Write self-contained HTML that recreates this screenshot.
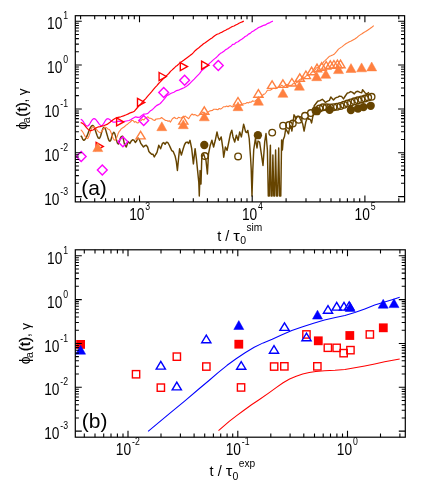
<!DOCTYPE html>
<html><head><meta charset="utf-8"><title>plot</title>
<style>html,body{margin:0;padding:0;background:#fff}svg{display:block}text{font-family:"Liberation Sans", sans-serif;fill:#000}</style></head><body>
<svg width="443" height="504" viewBox="0 0 443 504">
<rect width="443" height="504" fill="#fff"/>
<path d="M80.7 135.7L81.7 136.8L82.7 139.2L83.7 140.3L84.5 140L85.3 139.1L86.2 137.7L87 135.9L87.8 133.9L88.6 131.8L89.4 129.8L90.2 128L91.1 126.6L91.9 125.7L92.7 125.4L93.6 126L94.5 127.9L95.4 130.5L96.4 133.4L97.3 136L98.2 137.9L99.1 138.5L99.9 137.7L100.7 135.7L101.5 132.8L102.4 130L103.2 128L104 127.2L104.8 127.9L105.7 129.9L106.5 132.7L107.4 135.8L108.2 138.6L109.1 140.6L109.9 141.3L110.9 140L111.8 136.8L112.8 133.6L113.8 132.3L114.7 133.4L115.6 136.4L116.5 140L117.4 143L118.3 144.1L119.2 142.3L120.2 138.6L121.1 136.8L122.7 136.2L124.5 144.3L126.3 147L128.1 141.6L129.9 143.4L131.2 141.1L132.6 139.8L133.9 140.1L135.3 142.5L136.7 140.7L138 138L139.4 139.4L140.8 143.4L142.2 145.3L143.5 147L144.8 145.7L146.2 145.2L147.6 147L148.9 151.5L150.2 152.9L151.6 154.2L152.9 154.2L154.3 156.9L155.7 154.5L157 152.4L158.8 145.2L160.6 148.8L162.4 143.4L163.8 142.6L165.1 144.3L166.4 142.2L167.8 142.5L169.2 145L170.5 147.9L171.8 150.7L173.2 151.5L175.1 156L176.3 161.4L177.4 170.5L178.7 156.9L179.6 148.8L181.4 155.1L183.2 148.8L184.6 144.5L185.9 142.5L187.2 142.1L188.6 143.4L190 140.3L191.7 148.7L193.4 163.9L195.1 148.7L196.4 158.8L197.6 170.6L198.8 182.5L199.3 196L200.1 170.6L201 184.1L201.8 157.2L203.5 153.8L204.8 157.5L206 160.5L207.4 174L208.5 153.8L210.2 145.4L211.9 140.3L213.6 147L215.3 140.3L217 131.9L218.2 137.4L219.5 140.3L221.2 136.9L222.9 148.7L223.7 157.2L225.4 147L227.1 150.4L228.8 142L230.5 133.5L231.8 130.2L233 136.9L234.7 142L236.4 135.2L238.1 140.3L239.7 131.9L241.4 136.9L242.5 130.8L243.6 124.3L244.6 127.8L245.6 131.9L246.7 132.6L247.8 130.4L249.2 138.5L250.6 158L251.2 169L252 196L252.8 170L253.7 150L255.4 138.5L257 148L258 141L259.6 142L261.3 153.7L263 165.5L264.7 142L266 133.5L267.4 150L268.3 196L269.3 196L270.1 152L270.4 145.3L271.1 196L272.1 196L272.9 155L273.8 196L274.7 196L275.6 150L276.6 196L277.6 196L278.7 148L279.6 196L280.8 196L281.6 140L282.4 150L283.2 139.7L284.5 136.5L285.7 129L287 131L288.5 133.8L289.9 125.6L290.9 126.9L291.9 131L292.9 124L294 114.8L295 116.3L296 119L297 116.5L298 116.2L299.2 116.7L300.5 119.5L301.6 121.3L302.8 124.3L304.1 131.1L305.8 122L307.5 117.5L308.6 119.2L309.6 119L310.6 120L311.6 122.9L312.6 117.7L313.6 112.1L314.2 105.8L315.6 104L317.7 101.3L320 100.6L322.3 99.3L323.9 100.8L325.4 102.4L327.6 101.2L329.4 100.4L330.8 97L332.1 98.4L333.5 99.9L334.9 98.4L336.3 97.5L337.9 97.1L339.4 96.1L341.5 96.4L343.5 98.9L345.3 96L347.1 93.3L349 92.6L350.7 91.6L352.5 92.4L354.3 93.9L356.1 91.8L358 91.3L360 92.4L361.7 92.7L362.6 89.8L364 91.4L365.3 93.1L367 93.8L369 92.2" fill="none" stroke="#664400" stroke-width="1.45" stroke-linejoin="round"/>
<path d="M80.7 130L81.5 130.3L82.3 131.3L83.2 132.7L84 134.3L84.8 135.9L85.7 137.3L86.5 138.3L87.3 138.6L88.1 138L88.9 136.3L89.7 133.9L90.6 131.3L91.4 128.9L92.2 127.2L93 126.6L93.8 126.8L94.6 127.3L95.4 128.1L96.2 129.1L97.1 130.1L97.9 131.1L98.7 131.9L99.5 132.4L100.3 132.6L101.1 132.2L102 131.2L102.8 129.9L103.6 128.6L104.5 127.6L105.3 127.2L106.2 127.5L107 128.2L107.8 128.9L108.7 129.2L109.6 129.7L110.5 131.3L111.4 133.5L112.2 136L113.1 138.2L114 139.8L114.9 140.3L115.8 139.7L116.6 137.9L117.5 135.6L118.3 133.2L119.2 131.4L120 130.8L121.2 128.9L122.5 128L123.7 127.2L124.9 126.3L126.3 124.9L127.6 124.2L129 122.9L130.3 122L131.7 120.5L133.1 120.5L134.4 122.2L135.8 121.6L137.1 122.9L138.5 122.8L139.8 120.8L141.2 120.5L142.5 119.2L143.9 120L145.2 118.2L146.6 117.4L147.9 116.8L149.2 118.2L150.6 118.2L152 118.9L153.3 120L154.7 120.5L156.1 119L157.4 118.9L158.8 118.7L160.1 118.7L161.5 117.5L162.8 118.5L164.2 119.5L165.6 120.5L166.9 120.5L168.1 121.4L169.2 120.7L170.4 122.1L172.4 118.7L174.5 117.3L175.8 118.5L177.2 118.7L178.5 117.3L179.9 117.8L181.3 118L182.7 117L184 116.7L185.3 116.1L186.7 117.3L188.7 118.7L190.7 115.3L192.1 114L193.4 115L194.8 114.6L196.2 115.2L197.5 116L198.8 115.4L200.2 114L201.6 113.7L202.9 111.9L204.2 113L205.6 113.3L206.9 113.4L208.3 111.9L209.7 111L211.1 110.6L212.4 110.5L213.8 109.2L215.2 109.2L216.5 109.4L217.8 109.8L219.2 108.5L220.6 109.1L222 108.2L223.7 106.7L225.4 106.8L226.7 106.1L228 106.8L229.4 105.8L230.8 105.9L232.4 107L234 106.3L235.2 106L236.4 106.3L237.6 105.9L238.8 105.2L239.9 105.2L241.1 104.6L242.3 104.5L243.5 103.7L244.7 103.7L245.9 103.2L247.1 102.5L248.4 102.9L249.8 102.1L251.2 102.2L252.5 100.9L253.8 101.2L255.2 101L256.5 99.9L257.9 99.1L259.2 97.4L260.6 97.1L262 96.5L263.3 94.4L264.7 94L266 92.5L267.4 90.3L268.8 90.2L270.1 90.3L271.5 89.6L272.9 88.4L274.2 88.3L275.5 88.6L276.9 87.6L278.1 87.3L279.2 86.3L280.4 86.3L281.8 85.1L283.1 86.4L284.4 86.3L285.8 85L287.2 84.3L288.6 85.9L289.9 85.3L291.3 85.6L292.6 84.1L294 83.5L295.4 83.6L296.7 82.2L298.1 82.1L299.4 79.6L300.8 80L302.1 78.9L303.5 77.1L304.8 77.6L306.1 76L307.5 75.5L308.9 75.2L310.2 74.4L311.5 72.4L312.9 71.4L314.2 71.4L315.6 69L316.9 67.5L318.3 67.3L319.7 66.4L321 64.2L322.4 64L323.7 61.7L325 60.6L327.1 58.7L329.1 56.6L330.9 55.8L332.7 54.9L334.5 53.9L336.5 51.7L338.5 49.1L340.3 47.9L342.2 46.6L344 45.1L345.8 43.7L347.6 42.8L349.4 41.7L351.2 41L353 40L354.8 39L356.6 37.8L358.4 36.1L360.2 34.9L362 33.8L363.8 32.5L365.6 31.5L367.6 30.2L369.7 28.8L371.8 27.2L373.8 25.6" fill="none" stroke="#ff8040" stroke-width="1.1" stroke-linejoin="round"/>
<path d="M80.7 119.3L81.5 119.6L82.3 120.3L83.2 121.4L84 122.7L84.8 124L85.7 125.1L86.5 125.8L87.3 126.1L88.1 125.8L89 125L89.8 123.8L90.7 122.3L91.5 120.9L92.4 119.7L93.2 118.9L94.1 118.6L94.9 118.8L95.7 119.4L96.5 120.3L97.3 121.5L98.2 122.6L99 123.8L99.8 124.7L100.6 125.3L101.4 125.5L102.3 125.2L103.2 124.2L104.1 122.9L104.9 121.3L105.8 120L106.7 119L107.6 118.7L108.4 118.8L109.2 119.2L110 119.8L110.8 120.5L111.7 121.1L112.5 121.7L113.3 122.1L114.1 122.2L115 122.1L115.9 121.9L116.7 121.5L117.6 121.3L118.5 121.2L121 121.7L123.5 121.6L126.3 121L129 120.5L131 119.5L133 118.2L135.7 116.8L137.8 117.4L139.8 117.2L141.8 115.4L143.9 114.1L146 114L147.9 113.4L150.6 110.7L152.6 109.4L154.7 107.3L156.5 105.6L158.8 104.4L160.3 103.5L162.4 101.2L164.4 98.8L167.1 95.4L169 94.6L171.2 93.3L173.9 92.2L176.6 90.6L179.3 89.8L182 88.6L184 87.8L186.1 86.6L188.1 85L190.1 83.2L192.1 81.1L194.2 79.1L195.8 77.4L197.5 75.6L199.5 73.6L201.5 70.9L203 69.5L204.6 68.2L206.1 66.9L207.6 65.5L209.4 63.4L211.2 61.9L213 60.1L214.8 58.6L216.6 57.2L218.4 55.3L220.2 53.6L222.1 52.5L223.9 51.3L225.7 49.6L227.5 48.8L229.3 47.2L231 46.2L232.7 44.4L234.4 44.1L236.1 42.5L238.1 41.8L240 40.3L241.7 39.3L243.4 38.1L245.1 36.5L246.8 35.7L248.5 34.1L250.2 33.4L251.8 31.8L253.5 31L255.2 29.7L256.9 28.7L258.6 27.5L260.3 26.9L262 26.1L263.7 25.3L265.4 24.9L267.1 23.8L268.6 23.1L270 22.6L271.4 21.8L272.9 21.1" fill="none" stroke="#ff00ff" stroke-width="1.2" stroke-linejoin="round"/>
<path d="M80.7 122.7L81.5 122.8L82.4 123.2L83.2 123.9L84 124.7L84.9 125.6L85.7 126.6L86.5 127.7L87.4 128.6L88.2 129.4L89 130.1L89.9 130.5L90.7 130.6L93 130L95.2 128.4L96.9 127.5L98.6 126.8L100.2 126.6L101.8 126.2L104.2 125.5L107 124.4L110 122.2L112.7 120L115.4 118.2L118 117.4L120.8 116.8L123.5 115.9L126.3 114.8L128.3 113.9L130.3 112.8L132.4 112.2L134.4 111.2L137.1 108L138.8 106.1L140.5 104.5L142.2 102.4L143.8 100.5L145.5 98.8L147.5 96.3L149.5 94.2L151.5 91.9L153.5 89.4L155.2 87.3L156.9 85.6L158.6 83.5L160.3 81.8L162 80L163.7 78.4L165.4 77L167.1 75.1L168.8 73.5L170.5 71.4L172.2 69.9L173.9 68.3L175.6 66.6L177.2 65.5L178.9 63.9L180.6 62.2L182.3 61.2L184 60L185.7 58.7L187.4 57.4L190 55.6L191.7 54.3L193.4 52.6L195.1 50.7L196.8 49.2L198.5 48.1L200.2 46.5L201.8 45.3L203.5 43.8L205.2 42.7L206.9 41.4L208.6 40.2L210.3 39.1L212 37.9L213.7 36.6L215.4 35.3L217.1 34.3L218.8 33.7L220.5 32.8L222.2 32.1L223.9 31L225.6 30.3L227.2 29.3L228.9 28.6L230.6 27.6L232.3 26.5L234 26L235.7 25L237.4 24.2L239 23.2L240.6 22.5L242.2 21.9L243.8 21.1" fill="none" stroke="#ff0000" stroke-width="1.2" stroke-linejoin="round"/>
<circle cx="204.3" cy="145" r="4.15" fill="#664400"/>
<circle cx="257.9" cy="135.2" r="4.15" fill="#664400"/>
<circle cx="316.9" cy="111.2" r="4.15" fill="#664400"/>
<circle cx="329.6" cy="109.8" r="4.15" fill="#664400"/>
<circle cx="350.9" cy="110" r="4.15" fill="#664400"/>
<circle cx="358" cy="108.5" r="4.15" fill="#664400"/>
<circle cx="363.5" cy="107.1" r="4.15" fill="#664400"/>
<circle cx="370.7" cy="105.8" r="4.15" fill="#664400"/>
<circle cx="204.8" cy="156" r="3.3" fill="none" stroke="#664400" stroke-width="1.35"/>
<circle cx="238.1" cy="156.4" r="3.3" fill="none" stroke="#664400" stroke-width="1.35"/>
<circle cx="272.2" cy="132.6" r="3.3" fill="none" stroke="#664400" stroke-width="1.35"/>
<circle cx="283.1" cy="125.7" r="3.3" fill="none" stroke="#664400" stroke-width="1.35"/>
<circle cx="289" cy="125" r="3.3" fill="none" stroke="#664400" stroke-width="1.35"/>
<circle cx="292.8" cy="123.6" r="3.3" fill="none" stroke="#664400" stroke-width="1.35"/>
<circle cx="298.7" cy="119.8" r="3.3" fill="none" stroke="#664400" stroke-width="1.35"/>
<circle cx="305" cy="115.8" r="3.3" fill="none" stroke="#664400" stroke-width="1.35"/>
<circle cx="310.9" cy="113.1" r="3.3" fill="none" stroke="#664400" stroke-width="1.35"/>
<circle cx="315.5" cy="110.6" r="3.3" fill="none" stroke="#664400" stroke-width="1.35"/>
<circle cx="319.5" cy="108.6" r="3.3" fill="none" stroke="#664400" stroke-width="1.35"/>
<circle cx="323" cy="107.3" r="3.3" fill="none" stroke="#664400" stroke-width="1.35"/>
<circle cx="326.5" cy="107.3" r="3.3" fill="none" stroke="#664400" stroke-width="1.35"/>
<circle cx="330" cy="107.4" r="3.3" fill="none" stroke="#664400" stroke-width="1.35"/>
<circle cx="333.5" cy="107.2" r="3.3" fill="none" stroke="#664400" stroke-width="1.35"/>
<circle cx="337" cy="106.7" r="3.3" fill="none" stroke="#664400" stroke-width="1.35"/>
<circle cx="340.5" cy="105.9" r="3.3" fill="none" stroke="#664400" stroke-width="1.35"/>
<circle cx="344" cy="104.8" r="3.3" fill="none" stroke="#664400" stroke-width="1.35"/>
<circle cx="347.5" cy="103.6" r="3.3" fill="none" stroke="#664400" stroke-width="1.35"/>
<circle cx="351" cy="102.4" r="3.3" fill="none" stroke="#664400" stroke-width="1.35"/>
<circle cx="354.5" cy="101.3" r="3.3" fill="none" stroke="#664400" stroke-width="1.35"/>
<circle cx="358" cy="100.3" r="3.3" fill="none" stroke="#664400" stroke-width="1.35"/>
<circle cx="361.5" cy="99.4" r="3.3" fill="none" stroke="#664400" stroke-width="1.35"/>
<circle cx="365" cy="98.5" r="3.3" fill="none" stroke="#664400" stroke-width="1.35"/>
<circle cx="368.2" cy="97.6" r="3.3" fill="none" stroke="#664400" stroke-width="1.35"/>
<circle cx="371.6" cy="96.8" r="3.3" fill="none" stroke="#664400" stroke-width="1.35"/>
<polygon points="96.1,142.4 103.3,146.4 96.1,150.4" fill="none" stroke="#ff0000" stroke-width="1.4" stroke-linejoin="miter"/>
<polygon points="116.6,117.9 123.8,121.9 116.6,125.9" fill="none" stroke="#ff0000" stroke-width="1.4" stroke-linejoin="miter"/>
<polygon points="137.5,98.4 144.7,102.4 137.5,106.4" fill="none" stroke="#ff0000" stroke-width="1.4" stroke-linejoin="miter"/>
<polygon points="159.1,72.5 166.3,76.5 159.1,80.5" fill="none" stroke="#ff0000" stroke-width="1.4" stroke-linejoin="miter"/>
<polygon points="180.3,62.6 187.5,66.6 180.3,70.6" fill="none" stroke="#ff0000" stroke-width="1.4" stroke-linejoin="miter"/>
<polygon points="201.6,61.2 208.8,65.2 201.6,69.2" fill="none" stroke="#ff0000" stroke-width="1.4" stroke-linejoin="miter"/>
<polygon points="81.2,151.5 86.1,156.5 81.2,161.5 76.3,156.5" fill="none" stroke="#ff00ff" stroke-width="1.4" stroke-linejoin="miter"/>
<polygon points="102.3,165 107.2,170 102.3,175 97.4,170" fill="none" stroke="#ff00ff" stroke-width="1.4" stroke-linejoin="miter"/>
<polygon points="122.9,136.7 127.8,141.7 122.9,146.7 118,141.7" fill="none" stroke="#ff00ff" stroke-width="1.4" stroke-linejoin="miter"/>
<polygon points="143.7,115.6 148.6,120.6 143.7,125.6 138.8,120.6" fill="none" stroke="#ff00ff" stroke-width="1.4" stroke-linejoin="miter"/>
<polygon points="163.7,87.6 168.6,92.6 163.7,97.6 158.8,92.6" fill="none" stroke="#ff00ff" stroke-width="1.4" stroke-linejoin="miter"/>
<polygon points="184.6,75.2 189.5,80.2 184.6,85.2 179.7,80.2" fill="none" stroke="#ff00ff" stroke-width="1.4" stroke-linejoin="miter"/>
<polygon points="218.3,60.5 223.2,65.5 218.3,70.5 213.4,65.5" fill="none" stroke="#ff00ff" stroke-width="1.4" stroke-linejoin="miter"/>
<polygon points="97.8,142.7 102.8,151.6 92.8,151.6" fill="#ff8040" stroke="#ff8040" stroke-width="0.5" stroke-linejoin="miter"/>
<polygon points="161.8,121.8 166.8,130.7 156.8,130.7" fill="#ff8040" stroke="#ff8040" stroke-width="0.5" stroke-linejoin="miter"/>
<polygon points="183.3,119.8 188.3,128.7 178.3,128.7" fill="#ff8040" stroke="#ff8040" stroke-width="0.5" stroke-linejoin="miter"/>
<polygon points="204.3,111.9 209.3,120.8 199.3,120.8" fill="#ff8040" stroke="#ff8040" stroke-width="0.5" stroke-linejoin="miter"/>
<polygon points="238,101.8 243,110.7 233,110.7" fill="#ff8040" stroke="#ff8040" stroke-width="0.5" stroke-linejoin="miter"/>
<polygon points="258.4,96.3 263.4,105.2 253.4,105.2" fill="#ff8040" stroke="#ff8040" stroke-width="0.5" stroke-linejoin="miter"/>
<polygon points="282.9,88.4 287.9,97.3 277.9,97.3" fill="#ff8040" stroke="#ff8040" stroke-width="0.5" stroke-linejoin="miter"/>
<polygon points="299.4,81.3 304.4,90.2 294.4,90.2" fill="#ff8040" stroke="#ff8040" stroke-width="0.5" stroke-linejoin="miter"/>
<polygon points="316.7,71.8 321.7,80.7 311.7,80.7" fill="#ff8040" stroke="#ff8040" stroke-width="0.5" stroke-linejoin="miter"/>
<polygon points="325.8,69.4 330.8,78.3 320.8,78.3" fill="#ff8040" stroke="#ff8040" stroke-width="0.5" stroke-linejoin="miter"/>
<polygon points="338.5,64.7 343.5,73.6 333.5,73.6" fill="#ff8040" stroke="#ff8040" stroke-width="0.5" stroke-linejoin="miter"/>
<polygon points="351,63.6 356,72.5 346,72.5" fill="#ff8040" stroke="#ff8040" stroke-width="0.5" stroke-linejoin="miter"/>
<polygon points="361.6,62.9 366.6,71.8 356.6,71.8" fill="#ff8040" stroke="#ff8040" stroke-width="0.5" stroke-linejoin="miter"/>
<polygon points="371.7,62 376.7,70.9 366.7,70.9" fill="#ff8040" stroke="#ff8040" stroke-width="0.5" stroke-linejoin="miter"/>
<polygon points="140.6,131.3 145.2,138.9 136,138.9" fill="none" stroke="#ff8040" stroke-width="1.4" stroke-linejoin="miter"/>
<polygon points="183.3,116.5 187.9,124.1 178.7,124.1" fill="none" stroke="#ff8040" stroke-width="1.4" stroke-linejoin="miter"/>
<polygon points="204.3,106.8 208.9,114.4 199.7,114.4" fill="none" stroke="#ff8040" stroke-width="1.4" stroke-linejoin="miter"/>
<polygon points="238,97.5 242.6,105.1 233.4,105.1" fill="none" stroke="#ff8040" stroke-width="1.4" stroke-linejoin="miter"/>
<polygon points="258.4,89.7 263,97.2 253.8,97.2" fill="none" stroke="#ff8040" stroke-width="1.4" stroke-linejoin="miter"/>
<polygon points="272.1,80.8 276.7,88.4 267.5,88.4" fill="none" stroke="#ff8040" stroke-width="1.4" stroke-linejoin="miter"/>
<polygon points="282.9,79.8 287.5,87.4 278.3,87.4" fill="none" stroke="#ff8040" stroke-width="1.4" stroke-linejoin="miter"/>
<polygon points="291.9,78.5 296.5,86 287.3,86" fill="none" stroke="#ff8040" stroke-width="1.4" stroke-linejoin="miter"/>
<polygon points="299.8,73.8 304.4,81.3 295.2,81.3" fill="none" stroke="#ff8040" stroke-width="1.4" stroke-linejoin="miter"/>
<polygon points="305.9,71 310.5,78.6 301.3,78.6" fill="none" stroke="#ff8040" stroke-width="1.4" stroke-linejoin="miter"/>
<polygon points="311.6,67.2 316.2,74.8 307,74.8" fill="none" stroke="#ff8040" stroke-width="1.4" stroke-linejoin="miter"/>
<polygon points="317,64.2 321.6,71.8 312.4,71.8" fill="none" stroke="#ff8040" stroke-width="1.4" stroke-linejoin="miter"/>
<polygon points="321.7,62.7 326.3,70.2 317.1,70.2" fill="none" stroke="#ff8040" stroke-width="1.4" stroke-linejoin="miter"/>
<polygon points="326.2,61.5 330.8,69.1 321.6,69.1" fill="none" stroke="#ff8040" stroke-width="1.4" stroke-linejoin="miter"/>
<polygon points="330.3,60.8 334.9,68.4 325.7,68.4" fill="none" stroke="#ff8040" stroke-width="1.4" stroke-linejoin="miter"/>
<polygon points="333.9,60.5 338.5,68 329.3,68" fill="none" stroke="#ff8040" stroke-width="1.4" stroke-linejoin="miter"/>
<polygon points="337.4,60.2 342,67.8 332.8,67.8" fill="none" stroke="#ff8040" stroke-width="1.4" stroke-linejoin="miter"/>
<polygon points="340.5,60.1 345.1,67.8 335.9,67.8" fill="none" stroke="#ff8040" stroke-width="1.4" stroke-linejoin="miter"/>
<rect x="75.3" y="15.7" width="329.3" height="186.2" fill="none" stroke="#000" stroke-width="1.2"/>
<path d="M75.3 196.6h6.5M404.6 196.6h-6.5M75.3 183.3h3.6M404.6 183.3h-3.6M75.3 175.6h3.6M404.6 175.6h-3.6M75.3 170.1h3.6M404.6 170.1h-3.6M75.3 165.9h3.6M404.6 165.9h-3.6M75.3 162.4h3.6M404.6 162.4h-3.6M75.3 159.5h3.6M404.6 159.5h-3.6M75.3 156.9h3.6M404.6 156.9h-3.6M75.3 154.7h3.6M404.6 154.7h-3.6M75.3 152.7h6.5M404.6 152.7h-6.5M75.3 139.5h3.6M404.6 139.5h-3.6M75.3 131.8h3.6M404.6 131.8h-3.6M75.3 126.3h3.6M404.6 126.3h-3.6M75.3 122.1h3.6M404.6 122.1h-3.6M75.3 118.6h3.6M404.6 118.6h-3.6M75.3 115.6h3.6M404.6 115.6h-3.6M75.3 113.1h3.6M404.6 113.1h-3.6M75.3 110.9h3.6M404.6 110.9h-3.6M75.3 108.9h6.5M404.6 108.9h-6.5M75.3 95.6h3.6M404.6 95.6h-3.6M75.3 87.9h3.6M404.6 87.9h-3.6M75.3 82.4h3.6M404.6 82.4h-3.6M75.3 78.2h3.6M404.6 78.2h-3.6M75.3 74.7h3.6M404.6 74.7h-3.6M75.3 71.8h3.6M404.6 71.8h-3.6M75.3 69.2h3.6M404.6 69.2h-3.6M75.3 67h3.6M404.6 67h-3.6M75.3 65h6.5M404.6 65h-6.5M75.3 51.8h3.6M404.6 51.8h-3.6M75.3 44.1h3.6M404.6 44.1h-3.6M75.3 38.6h3.6M404.6 38.6h-3.6M75.3 34.4h3.6M404.6 34.4h-3.6M75.3 30.9h3.6M404.6 30.9h-3.6M75.3 27.9h3.6M404.6 27.9h-3.6M75.3 25.4h3.6M404.6 25.4h-3.6M75.3 23.2h3.6M404.6 23.2h-3.6M75.3 21.2h6.5M404.6 21.2h-6.5" stroke="#000" stroke-width="1.05" fill="none"/>
<path d="M80.6 201.9v-3.6M80.6 15.7v3.6M94.7 201.9v-3.6M94.7 15.7v3.6M105.6 201.9v-3.6M105.6 15.7v3.6M114.5 201.9v-3.6M114.5 15.7v3.6M122 201.9v-3.6M122 15.7v3.6M128.6 201.9v-3.6M128.6 15.7v3.6M134.3 201.9v-3.6M134.3 15.7v3.6M139.5 201.9v-6.5M139.5 15.7v6.5M173.4 201.9v-3.6M173.4 15.7v3.6M193.3 201.9v-3.6M193.3 15.7v3.6M207.4 201.9v-3.6M207.4 15.7v3.6M218.3 201.9v-3.6M218.3 15.7v3.6M227.2 201.9v-3.6M227.2 15.7v3.6M234.7 201.9v-3.6M234.7 15.7v3.6M241.3 201.9v-3.6M241.3 15.7v3.6M247 201.9v-3.6M247 15.7v3.6M252.2 201.9v-6.5M252.2 15.7v6.5M286.1 201.9v-3.6M286.1 15.7v3.6M306 201.9v-3.6M306 15.7v3.6M320.1 201.9v-3.6M320.1 15.7v3.6M331 201.9v-3.6M331 15.7v3.6M339.9 201.9v-3.6M339.9 15.7v3.6M347.4 201.9v-3.6M347.4 15.7v3.6M354 201.9v-3.6M354 15.7v3.6M359.7 201.9v-3.6M359.7 15.7v3.6M364.9 201.9v-6.5M364.9 15.7v6.5M398.8 201.9v-3.6M398.8 15.7v3.6" stroke="#000" stroke-width="1.1" fill="none"/>
<path d="M148.1 431.3L170 413.2L184.9 400.8L200 388L209 380.5L218.1 372.6L227.1 365.3L236.1 358.8L245.1 352.7L254.2 347.3L263.2 342.9L272.2 339.2L280.9 335.2L291.8 330.6L302.7 326.8L313.6 323.2L324.5 320.1L335.4 317.6L344.9 315.4L354.8 312.6L364.8 308.9L374.7 305L384.6 301.9L394.5 298.9L399.7 297.3" fill="none" stroke="#0000ff" stroke-width="1.05" stroke-linejoin="round"/>
<path d="M218.5 430.6L224 425.8L229.5 421.2L237 415.4L244.3 410L251.5 404.8L258.7 400L268.6 393.1L276.5 387.4L283.1 382.8L289.6 379L296.2 376.2L302.7 374L309.2 372.6L315.8 371.6L324.5 370.8L335 370.2L344.9 369.4L354.8 367.8L364.8 366L374.7 364L384.6 361.8L399.7 359" fill="none" stroke="#ff0000" stroke-width="1.05" stroke-linejoin="round"/>
<rect x="76.2" y="340" width="8.8" height="8.8" fill="#ff0000"/>
<rect x="234.4" y="339.8" width="8.8" height="8.8" fill="#ff0000"/>
<rect x="313.9" y="336.4" width="8.8" height="8.8" fill="#ff0000"/>
<rect x="345.4" y="331.1" width="8.8" height="8.8" fill="#ff0000"/>
<rect x="378.9" y="323.4" width="8.8" height="8.8" fill="#ff0000"/>
<rect x="132.4" y="370.6" width="7.3" height="7.3" fill="none" stroke="#ff0000" stroke-width="1.4"/>
<rect x="157.2" y="384" width="7.3" height="7.3" fill="none" stroke="#ff0000" stroke-width="1.4"/>
<rect x="173.2" y="353" width="7.3" height="7.3" fill="none" stroke="#ff0000" stroke-width="1.4"/>
<rect x="202.7" y="362.9" width="7.3" height="7.3" fill="none" stroke="#ff0000" stroke-width="1.4"/>
<rect x="237.4" y="383.8" width="7.3" height="7.3" fill="none" stroke="#ff0000" stroke-width="1.4"/>
<rect x="270.5" y="362.9" width="7.3" height="7.3" fill="none" stroke="#ff0000" stroke-width="1.4"/>
<rect x="280.7" y="362.7" width="7.3" height="7.3" fill="none" stroke="#ff0000" stroke-width="1.4"/>
<rect x="302.8" y="330.8" width="7.3" height="7.3" fill="none" stroke="#ff0000" stroke-width="1.4"/>
<rect x="313.7" y="362.7" width="7.3" height="7.3" fill="none" stroke="#ff0000" stroke-width="1.4"/>
<rect x="324.2" y="344.1" width="7.3" height="7.3" fill="none" stroke="#ff0000" stroke-width="1.4"/>
<rect x="333" y="344.2" width="7.3" height="7.3" fill="none" stroke="#ff0000" stroke-width="1.4"/>
<rect x="340" y="349.5" width="7.3" height="7.3" fill="none" stroke="#ff0000" stroke-width="1.4"/>
<rect x="346.8" y="346.5" width="7.3" height="7.3" fill="none" stroke="#ff0000" stroke-width="1.4"/>
<rect x="366.2" y="330.8" width="7.3" height="7.3" fill="none" stroke="#ff0000" stroke-width="1.4"/>
<polygon points="80.6,345.3 85.6,354.2 75.6,354.2" fill="#0000ff" stroke="#0000ff" stroke-width="0.5" stroke-linejoin="miter"/>
<polygon points="238.8,320.6 243.8,329.5 233.8,329.5" fill="#0000ff" stroke="#0000ff" stroke-width="0.5" stroke-linejoin="miter"/>
<polygon points="317.5,310.2 322.5,319.1 312.5,319.1" fill="#0000ff" stroke="#0000ff" stroke-width="0.5" stroke-linejoin="miter"/>
<polygon points="350.2,302.6 355.2,311.5 345.2,311.5" fill="#0000ff" stroke="#0000ff" stroke-width="0.5" stroke-linejoin="miter"/>
<polygon points="383.2,299.3 388.2,308.2 378.2,308.2" fill="#0000ff" stroke="#0000ff" stroke-width="0.5" stroke-linejoin="miter"/>
<polygon points="394,298.7 399,307.6 389,307.6" fill="#0000ff" stroke="#0000ff" stroke-width="0.5" stroke-linejoin="miter"/>
<polygon points="160.8,361.4 165.4,369.1 156.2,369.1" fill="none" stroke="#0000ff" stroke-width="1.4" stroke-linejoin="miter"/>
<polygon points="176.8,382.2 181.4,389.9 172.2,389.9" fill="none" stroke="#0000ff" stroke-width="1.4" stroke-linejoin="miter"/>
<polygon points="206.3,335.1 210.9,342.7 201.7,342.7" fill="none" stroke="#0000ff" stroke-width="1.4" stroke-linejoin="miter"/>
<polygon points="241.2,361.6 245.8,369.2 236.6,369.2" fill="none" stroke="#0000ff" stroke-width="1.4" stroke-linejoin="miter"/>
<polygon points="274,345.6 278.6,353.2 269.4,353.2" fill="none" stroke="#0000ff" stroke-width="1.4" stroke-linejoin="miter"/>
<polygon points="284.5,322.8 289.1,330.4 279.9,330.4" fill="none" stroke="#0000ff" stroke-width="1.4" stroke-linejoin="miter"/>
<polygon points="306.5,333.1 311.1,340.7 301.9,340.7" fill="none" stroke="#0000ff" stroke-width="1.4" stroke-linejoin="miter"/>
<polygon points="328,305.6 332.6,313.2 323.4,313.2" fill="none" stroke="#0000ff" stroke-width="1.4" stroke-linejoin="miter"/>
<polygon points="336.7,302.4 341.3,310.1 332.1,310.1" fill="none" stroke="#0000ff" stroke-width="1.4" stroke-linejoin="miter"/>
<polygon points="344,302.4 348.6,310.1 339.4,310.1" fill="none" stroke="#0000ff" stroke-width="1.4" stroke-linejoin="miter"/>
<polygon points="349.2,301.9 353.8,309.5 344.6,309.5" fill="none" stroke="#0000ff" stroke-width="1.4" stroke-linejoin="miter"/>
<rect x="75.3" y="249.8" width="330" height="187.4" fill="none" stroke="#000" stroke-width="1.2"/>
<path d="M75.3 431.1h6.5M405.3 431.1h-6.5M75.3 417.9h3.6M405.3 417.9h-3.6M75.3 410.2h3.6M405.3 410.2h-3.6M75.3 404.7h3.6M405.3 404.7h-3.6M75.3 400.5h3.6M405.3 400.5h-3.6M75.3 397h3.6M405.3 397h-3.6M75.3 394h3.6M405.3 394h-3.6M75.3 391.5h3.6M405.3 391.5h-3.6M75.3 389.3h3.6M405.3 389.3h-3.6M75.3 387.2h6.5M405.3 387.2h-6.5M75.3 374h3.6M405.3 374h-3.6M75.3 366.3h3.6M405.3 366.3h-3.6M75.3 360.8h3.6M405.3 360.8h-3.6M75.3 356.6h3.6M405.3 356.6h-3.6M75.3 353.1h3.6M405.3 353.1h-3.6M75.3 350.2h3.6M405.3 350.2h-3.6M75.3 347.6h3.6M405.3 347.6h-3.6M75.3 345.4h3.6M405.3 345.4h-3.6M75.3 343.4h6.5M405.3 343.4h-6.5M75.3 330.2h3.6M405.3 330.2h-3.6M75.3 322.5h3.6M405.3 322.5h-3.6M75.3 317h3.6M405.3 317h-3.6M75.3 312.8h3.6M405.3 312.8h-3.6M75.3 309.3h3.6M405.3 309.3h-3.6M75.3 306.3h3.6M405.3 306.3h-3.6M75.3 303.8h3.6M405.3 303.8h-3.6M75.3 301.6h3.6M405.3 301.6h-3.6M75.3 299.6h6.5M405.3 299.6h-6.5M75.3 286.3h3.6M405.3 286.3h-3.6M75.3 278.6h3.6M405.3 278.6h-3.6M75.3 273.1h3.6M405.3 273.1h-3.6M75.3 268.9h3.6M405.3 268.9h-3.6M75.3 265.4h3.6M405.3 265.4h-3.6M75.3 262.5h3.6M405.3 262.5h-3.6M75.3 259.9h3.6M405.3 259.9h-3.6M75.3 257.7h3.6M405.3 257.7h-3.6M75.3 255.7h6.5M405.3 255.7h-6.5" stroke="#000" stroke-width="1.05" fill="none"/>
<path d="M84.3 437.2v-3.6M84.3 249.8v3.6M95 437.2v-3.6M95 249.8v3.6M103.7 437.2v-3.6M103.7 249.8v3.6M111 437.2v-3.6M111 249.8v3.6M117.4 437.2v-3.6M117.4 249.8v3.6M123 437.2v-3.6M123 249.8v3.6M128 437.2v-6.5M128 249.8v6.5M161 437.2v-3.6M161 249.8v3.6M180.4 437.2v-3.6M180.4 249.8v3.6M194.1 437.2v-3.6M194.1 249.8v3.6M204.7 437.2v-3.6M204.7 249.8v3.6M213.4 437.2v-3.6M213.4 249.8v3.6M220.7 437.2v-3.6M220.7 249.8v3.6M227.1 437.2v-3.6M227.1 249.8v3.6M232.7 437.2v-3.6M232.7 249.8v3.6M237.8 437.2v-6.5M237.8 249.8v6.5M270.8 437.2v-3.6M270.8 249.8v3.6M290.1 437.2v-3.6M290.1 249.8v3.6M303.8 437.2v-3.6M303.8 249.8v3.6M314.5 437.2v-3.6M314.5 249.8v3.6M323.2 437.2v-3.6M323.2 249.8v3.6M330.5 437.2v-3.6M330.5 249.8v3.6M336.9 437.2v-3.6M336.9 249.8v3.6M342.5 437.2v-3.6M342.5 249.8v3.6M347.5 437.2v-6.5M347.5 249.8v6.5M380.5 437.2v-3.6M380.5 249.8v3.6M399.9 437.2v-3.6M399.9 249.8v3.6" stroke="#000" stroke-width="1.1" fill="none"/>
<g style="will-change:opacity;opacity:0.999">
<text transform="translate(68.0 204.7) scale(0.87 1)" text-anchor="end" font-size="15.8">10<tspan font-size="10.0" dy="-10" dx="1.0">-3</tspan></text>
<text transform="translate(68.0 160.8) scale(0.87 1)" text-anchor="end" font-size="15.8">10<tspan font-size="10.0" dy="-10" dx="1.0">-2</tspan></text>
<text transform="translate(68.0 117) scale(0.87 1)" text-anchor="end" font-size="15.8">10<tspan font-size="10.0" dy="-10" dx="1.0">-1</tspan></text>
<text transform="translate(68.0 73.1) scale(0.87 1)" text-anchor="end" font-size="15.8">10<tspan font-size="10.0" dy="-10" dx="1.0">0</tspan></text>
<text transform="translate(68.0 29.3) scale(0.87 1)" text-anchor="end" font-size="15.8">10<tspan font-size="10.0" dy="-10" dx="1.0">1</tspan></text>
<text transform="translate(139.7 220.3) scale(0.87 1)" text-anchor="middle" font-size="15.8">10<tspan font-size="10.0" dy="-10" dx="1.0">3</tspan></text>
<text transform="translate(252.4 220.3) scale(0.87 1)" text-anchor="middle" font-size="15.8">10<tspan font-size="10.0" dy="-10" dx="1.0">4</tspan></text>
<text transform="translate(365.1 220.3) scale(0.87 1)" text-anchor="middle" font-size="15.8">10<tspan font-size="10.0" dy="-10" dx="1.0">5</tspan></text>
<text transform="translate(26.9 129.2) rotate(-90)" font-size="14"><tspan x="-0.4">ϕ</tspan><tspan x="5.9" dy="3.2" font-size="10.7">a</tspan><tspan x="12.5" dy="-3.2" font-size="15.3" stroke="#000" stroke-width="0.3">(t)</tspan><tspan x="26.7" font-size="14">,</tspan><tspan x="34" font-size="13.5">γ</tspan></text>
<text x="217.2" y="240.6" font-size="14.5">t / <tspan textLength="6.6" lengthAdjust="spacingAndGlyphs">τ</tspan><tspan font-size="10.5" dy="3.4" dx="0.2">0</tspan><tspan font-size="10.2" dy="-12.8" dx="0.5">sim</tspan></text>
<text x="81.2" y="195.0" font-size="21">(a)</text>
<text transform="translate(68.0 439.2) scale(0.87 1)" text-anchor="end" font-size="15.8">10<tspan font-size="10.0" dy="-10" dx="1.0">-3</tspan></text>
<text transform="translate(68.0 395.4) scale(0.87 1)" text-anchor="end" font-size="15.8">10<tspan font-size="10.0" dy="-10" dx="1.0">-2</tspan></text>
<text transform="translate(68.0 351.5) scale(0.87 1)" text-anchor="end" font-size="15.8">10<tspan font-size="10.0" dy="-10" dx="1.0">-1</tspan></text>
<text transform="translate(68.0 307.7) scale(0.87 1)" text-anchor="end" font-size="15.8">10<tspan font-size="10.0" dy="-10" dx="1.0">0</tspan></text>
<text transform="translate(68.0 263.8) scale(0.87 1)" text-anchor="end" font-size="15.8">10<tspan font-size="10.0" dy="-10" dx="1.0">1</tspan></text>
<text transform="translate(127.8 455.1) scale(0.87 1)" text-anchor="middle" font-size="15.8">10<tspan font-size="10.0" dy="-10" dx="1.0">-2</tspan></text>
<text transform="translate(237.6 455.1) scale(0.87 1)" text-anchor="middle" font-size="15.8">10<tspan font-size="10.0" dy="-10" dx="1.0">-1</tspan></text>
<text transform="translate(347.3 455.1) scale(0.87 1)" text-anchor="middle" font-size="15.8">10<tspan font-size="10.0" dy="-10" dx="1.0">0</tspan></text>
<text transform="translate(29.6 363.8) rotate(-90)" font-size="14"><tspan x="-0.4">ϕ</tspan><tspan x="5.9" dy="3.2" font-size="10.7">a</tspan><tspan x="12.5" dy="-3.2" font-size="15.3" stroke="#000" stroke-width="0.3">(t)</tspan><tspan x="26.7" font-size="14">,</tspan><tspan x="34" font-size="13.5">γ</tspan></text>
<text x="209.6" y="476.4" font-size="14.5">t / <tspan textLength="6.6" lengthAdjust="spacingAndGlyphs">τ</tspan><tspan font-size="10.5" dy="3.4" dx="0.2">0</tspan><tspan font-size="10.2" dy="-12.6" dx="0.5">exp</tspan></text>
<text x="81.8" y="428.0" font-size="21">(b)</text>
</g>
</svg></body></html>
